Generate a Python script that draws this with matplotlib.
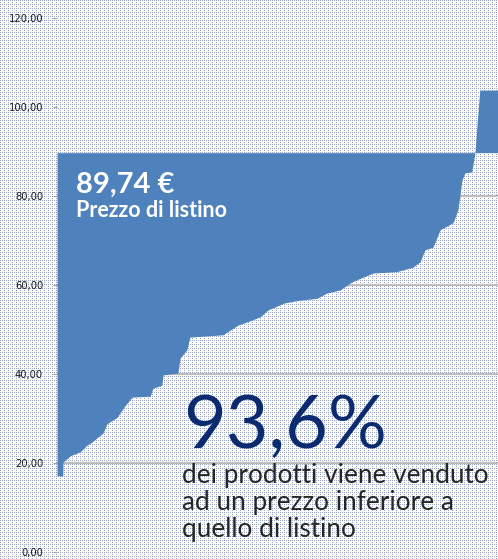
import numpy as np
import matplotlib
matplotlib.use("Agg")
import matplotlib.pyplot as plt

# ── data: product prices sorted ascending
rank_pct = [0.0, 1.3, 1.35, 2.9, 5.2, 6.7, 7.8, 10.3, 11.2, 13.5, 15.2, 16.8,
            20.9, 21.5, 23.5, 23.8, 27.1, 27.6, 29.1, 29.8, 37.2, 40.6, 42.6,
            45.5, 47.3, 51.1, 54.5, 58.3, 60.5, 63.5, 66.1, 70.9, 76.2, 79.8,
            81.4, 82.5, 84.3, 85.9, 88.8, 89.9, 90.8, 91.5, 93.0, 93.7, 94.2,
            94.8, 100.0]
prices = [17.1, 17.1, 20.2, 21.6, 22.5, 24.0, 24.7, 26.7, 28.8, 30.3, 32.8,
          34.8, 35.0, 36.8, 37.5, 39.8, 40.2, 43.6, 45.4, 48.3, 48.8, 51.0,
          51.7, 52.8, 54.4, 56.0, 56.6, 57.0, 58.2, 58.9, 60.7, 62.7, 63.0,
          64.0, 65.2, 67.9, 68.5, 72.4, 74.0, 76.9, 83.6, 85.2, 85.4, 89.7,
          96.4, 103.8, 103.8]
list_price = 89.74
share_below = "93,6%"
y_ticks = [0, 20, 40, 60, 80, 100, 120]
grid_levels = [20, 40, 60, 80]
body_lines = ["dei prodotti viene venduto",
              "ad un prezzo inferiore a",
              "quello di listino"]

W, H = 498, 559
fig = plt.figure(figsize=(W / 100, H / 100), dpi=100)
fig.patch.set_facecolor("white")

# ── dotted background texture
ii, jj = np.mgrid[0:H, 0:W]
dots = ((ii % 2 == 0) & (jj % 2 == 0)) & ~((ii % 4 == 2) & (jj % 4 == 2))
bg = np.ones((H, W, 3))
bg[dots] = np.array([150, 163, 192]) / 255
fig.figimage(bg, 0, 0, zorder=0)

ax = fig.add_axes([57 / W, 7 / H, 446 / W, 534 / H], zorder=2)
ax.patch.set_visible(False)
ax.set_xlim(0, 100)
ax.set_ylim(0, 120)

for g in grid_levels:
    ax.axhline(g, color="#BDBDBD", lw=1.6, zorder=1)

ax.fill_between(rank_pct, prices, list_price, color="#4F81BD", lw=0, zorder=2)

for s in ax.spines.values():
    s.set_visible(False)
ax.set_xticks([])
ax.set_yticks(y_ticks)
ax.set_yticklabels([f"{v:.2f}".replace(".", ",") for v in y_ticks],
                   family="DejaVu Sans", fontsize=7.2, color="#1a1a1a")
ax.tick_params(axis="y", length=3, color="#A0A0A0", pad=7)

# ── annotations
txt_kw = dict(va="baseline", zorder=3)
fig.text(76 / W, 1 - 193 / H, "89,74 €", family=["Lato", "DejaVu Sans"],
         fontweight="bold", fontsize=21, color="white", **txt_kw)
fig.text(76 / W, 1 - 217 / H, "Prezzo di listino", family=["Lato", "DejaVu Sans"],
         fontweight="bold", fontsize=15.5, color="white", **txt_kw)
fig.text(183 / W, 1 - 448 / H, share_below, family=["Lato", "DejaVu Sans"],
         fontsize=53, color="#0B2A6F", **txt_kw)
for k, line in enumerate(body_lines):
    fig.text(182 / W, 1 - (483 + 27 * k) / H, line, family=["Lato", "DejaVu Sans"],
             fontsize=18.8, color="#262626", **txt_kw)

fig.savefig("out.png", dpi=100)
